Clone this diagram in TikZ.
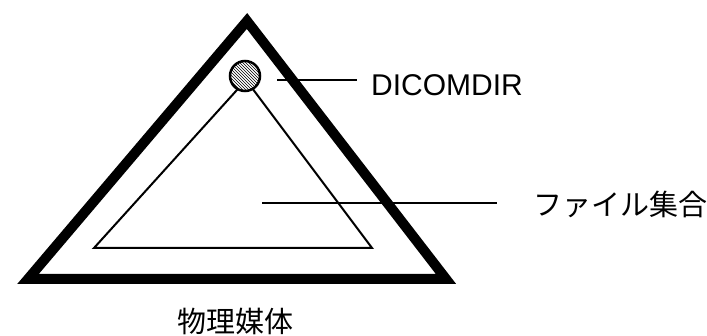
\documentclass[tikz,border=0pt]{standalone}
\usepackage{fontspec}
\setmainfont{Liberation Sans}
\newfontfamily\jpfont{Noto Sans CJK JP}
\usetikzlibrary{patterns}
\tikzset{
  outertri/.style={line width=10pt, line join=miter},
  innertri/.style={line width=2pt, line join=miter},
  leader/.style={line width=2pt},
  dirdot/.style={circle, draw, line width=2.5pt, minimum size=30pt, inner sep=0pt, fill=white, postaction={pattern=north west lines}},
  lbl/.style={inner sep=0pt, anchor=west},
  jplbl/.style={inner sep=0pt, font=\jpfont\fontsize{29}{31}\selectfont},
}
\begin{document}
\begin{tikzpicture}[x=1pt,y=-1pt]
\useasboundingbox (0,0) rectangle (707,336);
% outer triangle (physical medium)
\coordinate (oa) at (247,21);
\coordinate (ol) at (28,279);
\coordinate (or) at (446,279);
\draw[outertri] (oa) -- (ol) -- (or) -- cycle;
% inner triangle (file set)
\coordinate (ia) at (246,80);
\coordinate (il) at (94,248);
\coordinate (ir) at (372,248);
\draw[innertri] (ia) -- (il) -- (ir) -- cycle;
% DICOMDIR dot
\node[dirdot] (dd) at (245,76) {};
% labels
\node[lbl, font=\fontsize{30}{32}\selectfont] (dicom) at (371,85) {DICOMDIR};
\node[jplbl, anchor=west] (fset) at (533,204) {ファイル集合};
\node[jplbl] (media) at (235,321) {物理媒体};
% leaders
\coordinate (d1) at (277,80);
\coordinate (d2) at (357,80);
\draw[leader] (d1) -- (d2);
\coordinate (f1) at (262,203);
\coordinate (f2) at (497,203);
\draw[leader] (f1) -- (f2);
\end{tikzpicture}
\end{document}
